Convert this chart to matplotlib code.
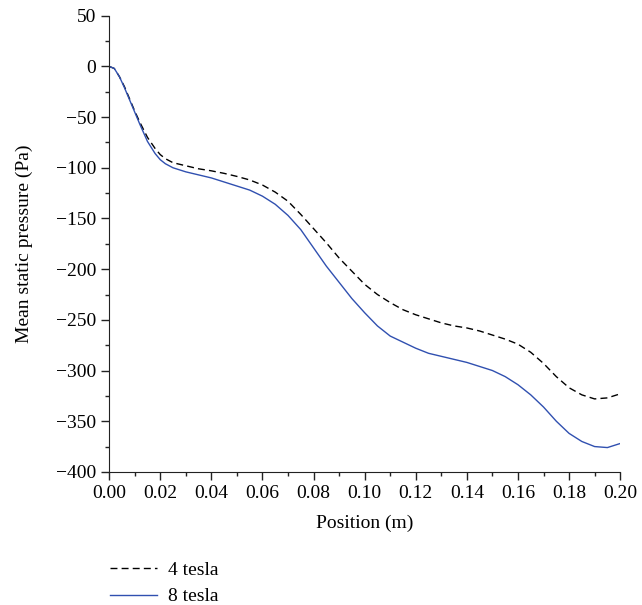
import matplotlib.pyplot as plt
from matplotlib.ticker import MultipleLocator

plt.rcParams['font.family'] = ['Liberation Serif', 'DejaVu Serif']

# posice (m) a střední statický tlak (Pa)
position = [0.0, 0.002, 0.004, 0.006, 0.008, 0.01, 0.012, 0.015, 0.018, 0.02,
            0.022, 0.025, 0.03, 0.035, 0.04, 0.045, 0.05, 0.055, 0.06, 0.065,
            0.07, 0.075, 0.08, 0.085, 0.09, 0.095, 0.10, 0.105, 0.11, 0.115,
            0.12, 0.125, 0.13, 0.135, 0.14, 0.145, 0.15, 0.155, 0.16, 0.165,
            0.17, 0.175, 0.18, 0.185, 0.19, 0.195, 0.20]
p_4tesla = [0, -2, -10, -20, -32, -44, -55, -70, -81, -87,
            -91, -95, -98, -101, -103, -105.5, -108.5, -112, -117, -124,
            -133, -146, -160, -174, -189, -202, -215, -225, -233, -240,
            -245, -249, -253, -256, -258, -261, -265, -269, -274, -282,
            -293, -306, -317, -324, -328, -327, -323]
p_8tesla = [0, -2, -10, -21, -33, -45, -57, -74, -86, -92,
            -96, -100, -104, -107, -110, -114, -118, -122, -128, -136,
            -147, -161, -179, -197, -213, -229, -243, -256, -266, -272,
            -278, -283, -286, -289, -292, -296, -300, -306, -314, -324,
            -336, -350, -362, -370, -375, -376, -372]

fig = plt.figure(figsize=(6.42, 6.05), dpi=100)
ax = fig.add_axes([0.170, 0.220, 0.796, 0.754])

l1, = ax.plot(position, p_4tesla, color='black', linestyle=(0, (5, 3)), linewidth=1.0, label='4 tesla')
l2, = ax.plot(position, p_8tesla, color='#3050b0', linewidth=1.0, label='8 tesla')

ax.set_xlim(0, 0.20)
ax.set_ylim(-400, 50)
ax.xaxis.set_major_locator(MultipleLocator(0.02))
ax.xaxis.set_minor_locator(MultipleLocator(0.01))
ax.yaxis.set_major_locator(MultipleLocator(50))
ax.yaxis.set_minor_locator(MultipleLocator(25))
ax.xaxis.set_major_formatter(plt.FuncFormatter(lambda v, p: '{:.2f}'.format(v)))

for s in ['top', 'right']:
    ax.spines[s].set_visible(False)
for s in ['left', 'bottom']:
    ax.spines[s].set_color('#222222')
ax.tick_params(which='major', direction='out', length=6, width=1, labelsize=14, colors='#222222')
ax.tick_params(which='minor', direction='out', length=3, width=1, colors='#222222')
ax.tick_params(labelcolor='black')

ax.set_xlabel('Position (m)', fontsize=14, labelpad=9)
ax.set_ylabel('Mean static pressure (Pa)', fontsize=14, labelpad=16)

fig.legend(handles=[l1, l2], loc='upper left', bbox_to_anchor=(0.159, 0.085),
           frameon=False, fontsize=14, handlelength=2.4, handletextpad=0.6,
           labelspacing=0.45, borderaxespad=0)

fig.savefig('out.png', dpi=100)
